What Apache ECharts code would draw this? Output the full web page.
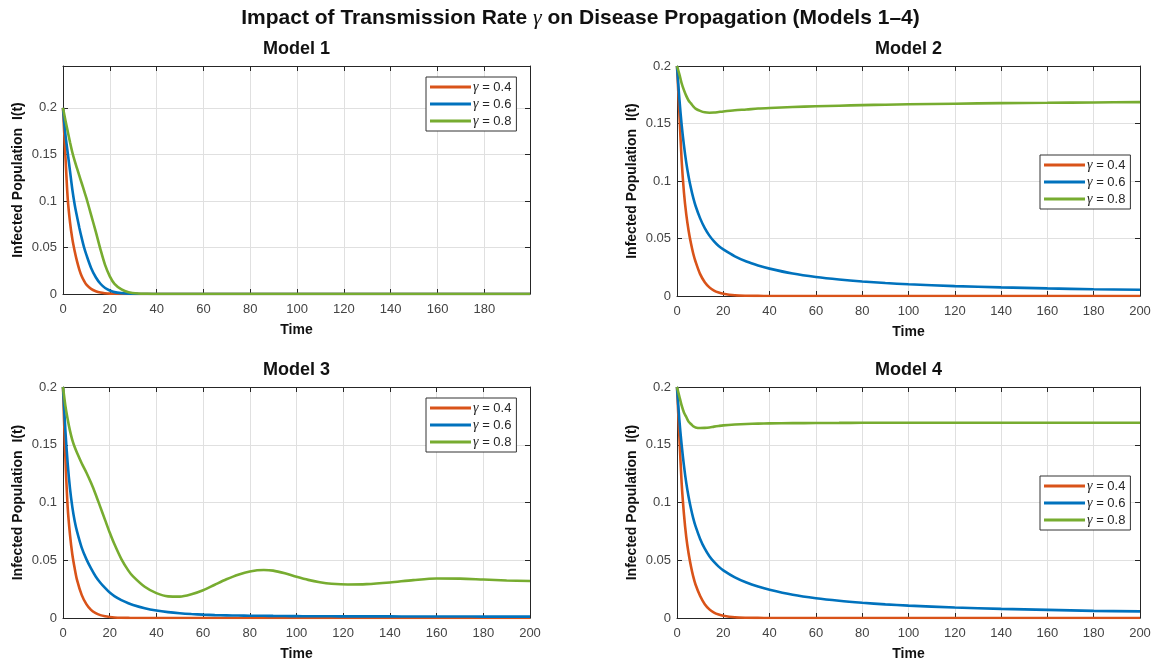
<!DOCTYPE html>
<html>
<head>
<meta charset="utf-8">
<script src="https://cdn.jsdelivr.net/npm/echarts@6/dist/echarts.min.js"></script>
<style>
  html, body { margin: 0; padding: 0; background: #fff; }
  #chart { width: 1161px; height: 664px; }
</style>
</head>
<body>
<div id="chart"></div>
<script>
// ---- data ----
var seriesNames = ['γ = 0.4', 'γ = 0.6', 'γ = 0.8'];
var modelTitles = ['Model 1', 'Model 2', 'Model 3', 'Model 4'];

// Model 1
var time1 = [0, 1, 2, 3, 4, 5, 6, 7, 8, 9, 10, 12, 14, 16, 18, 20, 22, 25, 28, 32, 36, 40, 60, 100, 150, 199.5];
var m1Orange = [0.2, 0.15, 0.103, 0.077, 0.059, 0.046, 0.035, 0.026, 0.019, 0.014, 0.01, 0.0055, 0.003, 0.0015, 0.0008, 0.0004, 0.0002, 0.0001, 0, 0, 0, 0, 0, 0, 0, 0];
var m1Blue = [0.2, 0.172, 0.152, 0.132, 0.112, 0.096, 0.083, 0.071, 0.06, 0.05, 0.042, 0.028, 0.018, 0.011, 0.0065, 0.0038, 0.002, 0.0009, 0.0003, 0.0001, 0, 0, 0, 0, 0, 0];
var m1Green = [0.2, 0.187, 0.175, 0.163, 0.152, 0.143, 0.135, 0.127, 0.119, 0.111, 0.103, 0.085, 0.067, 0.048, 0.031, 0.019, 0.011, 0.005, 0.002, 0.0006, 0.0002, 0, 0, 0, 0, 0];

// Model 2
var time2 = [0, 1, 2, 3, 4, 5, 6, 7, 8, 10, 12, 14, 16, 18, 20, 25, 30, 35, 40, 50, 60, 70, 80, 90, 100, 120, 140, 160, 180, 200];
var m2Orange = [0.2, 0.16, 0.118, 0.09, 0.071, 0.057, 0.046, 0.037, 0.03, 0.019, 0.012, 0.0075, 0.0047, 0.003, 0.0019, 0.0006, 0.0002, 0.0001, 0, 0, 0, 0, 0, 0, 0, 0, 0, 0, 0, 0];
var m2Blue = [0.2, 0.172, 0.149, 0.131, 0.116, 0.104, 0.094, 0.0855, 0.0785, 0.0675, 0.059, 0.0525, 0.0475, 0.0435, 0.0405, 0.0345, 0.03, 0.0266, 0.0238, 0.0195, 0.0165, 0.0143, 0.0126, 0.0113, 0.0102, 0.0086, 0.0075, 0.0066, 0.0059, 0.0054];
var m2Green = [0.2, 0.193, 0.185, 0.179, 0.174, 0.17, 0.1675, 0.165, 0.163, 0.161, 0.1597, 0.1594, 0.1595, 0.16, 0.1605, 0.1615, 0.1622, 0.163, 0.1635, 0.1643, 0.165, 0.1655, 0.166, 0.1663, 0.1667, 0.1672, 0.1677, 0.168, 0.1683, 0.1686];

// Model 3
var time3 = [0, 1, 2, 3, 4, 5, 6, 8, 10, 12, 14, 16, 18, 20, 22, 25, 28, 30, 35, 40, 45, 50, 55, 60, 65, 70, 75, 80, 86, 90, 95, 100, 105, 110, 115, 122, 130, 140, 150, 160, 170, 180, 190, 200];
var m3Orange = [0.2, 0.14, 0.096, 0.072, 0.055, 0.043, 0.033, 0.02, 0.012, 0.007, 0.0042, 0.0025, 0.0015, 0.0009, 0.0005, 0.0002, 0.0001, 0, 0, 0, 0, 0, 0, 0, 0, 0, 0, 0, 0, 0, 0, 0, 0, 0, 0, 0, 0, 0, 0, 0, 0, 0, 0, 0];
var m3Blue = [0.2, 0.163, 0.134, 0.112, 0.096, 0.084, 0.075, 0.061, 0.051, 0.043, 0.036, 0.0305, 0.026, 0.022, 0.019, 0.0155, 0.0128, 0.0113, 0.0085, 0.0065, 0.0051, 0.0041, 0.0034, 0.0029, 0.0025, 0.0023, 0.0021, 0.002, 0.0019, 0.0018, 0.0017, 0.0016, 0.0015, 0.0015, 0.0015, 0.0014, 0.0014, 0.0014, 0.0013, 0.0013, 0.0013, 0.0012, 0.0012, 0.0012];
var m3Green = [0.2, 0.184, 0.172, 0.162, 0.154, 0.148, 0.143, 0.134, 0.126, 0.117, 0.107, 0.096, 0.085, 0.074, 0.064, 0.051, 0.041, 0.036, 0.027, 0.0215, 0.0187, 0.0185, 0.0205, 0.024, 0.0288, 0.0335, 0.0375, 0.0403, 0.0415, 0.041, 0.0387, 0.0357, 0.033, 0.031, 0.0297, 0.029, 0.0293, 0.0308, 0.0328, 0.0342, 0.0341, 0.0333, 0.0325, 0.032];

// Model 4
var time4 = [0, 1, 2, 3, 4, 5, 6, 7, 8, 10, 12, 14, 16, 18, 20, 25, 30, 35, 40, 50, 60, 70, 80, 90, 100, 120, 140, 160, 180, 200];
var m4Orange = [0.2, 0.158, 0.117, 0.09, 0.07, 0.056, 0.045, 0.036, 0.029, 0.019, 0.012, 0.0075, 0.0047, 0.003, 0.0019, 0.0006, 0.0002, 0.0001, 0, 0, 0, 0, 0, 0, 0, 0, 0, 0, 0, 0];
var m4Blue = [0.2, 0.172, 0.15, 0.132, 0.117, 0.105, 0.095, 0.0865, 0.0795, 0.0685, 0.06, 0.0535, 0.0485, 0.0445, 0.0413, 0.0352, 0.0307, 0.0272, 0.0244, 0.0201, 0.0171, 0.0149, 0.0132, 0.0118, 0.0107, 0.0091, 0.0079, 0.007, 0.0062, 0.0057];
var m4Green = [0.2, 0.192, 0.184, 0.178, 0.174, 0.17, 0.168, 0.166, 0.165, 0.1645, 0.1646, 0.165, 0.1657, 0.1663, 0.1668, 0.1675, 0.168, 0.1683, 0.1685, 0.1687, 0.1688, 0.1689, 0.169, 0.169, 0.169, 0.169, 0.169, 0.169, 0.169, 0.169];

var xMax = [199.5, 200, 200, 200];
var yMax = [0.245, 0.2, 0.2, 0.2];

var models = [
    { time: time1, values: [m1Orange, m1Blue, m1Green] },
    { time: time2, values: [m2Orange, m2Blue, m2Green] },
    { time: time3, values: [m3Orange, m3Blue, m3Green] },
    { time: time4, values: [m4Orange, m4Blue, m4Green] }
];

// ---- layout ----
var colors = ['#D95319', '#0072BD', '#77AC30'];
var font = 'Liberation Sans, Arial, Helvetica, sans-serif';
var axisColor = '#262626';
var grids = [
    { left: 63, top: 66, width: 467, height: 228 },
    { left: 677, top: 66, width: 463, height: 230 },
    { left: 63, top: 387, width: 467, height: 231 },
    { left: 677, top: 387, width: 463, height: 231 }
];
var legendPos = [
    { left: 426, top: 77 },
    { left: 1040, top: 155 },
    { left: 426, top: 398 },
    { left: 1040, top: 476 }
];

var chartDom = document.getElementById('chart');
var myChart = echarts.init(chartDom, null, { renderer: 'canvas' });

var titles = [{
    text: 'Impact of Transmission Rate {g|γ} on Disease Propagation (Models 1\u20134)',
    left: 'center',
    top: 7,
    padding: 0,
    textStyle: {
        fontFamily: font, fontSize: 21, fontWeight: 'bold', color: '#111',
        rich: { g: { fontFamily: 'Liberation Serif', fontStyle: 'italic', fontSize: 22, fontWeight: 'normal', color: '#111' } }
    }
}];
var xAxes = [], yAxes = [], series = [], legends = [];

grids.forEach(function (g, i) {
    titles.push({
        text: modelTitles[i],
        left: g.left + g.width / 2,
        textAlign: 'center',
        top: g.top - 26,
        padding: 0,
        textStyle: { fontFamily: font, fontSize: 18, fontWeight: 'bold', color: '#111' }
    });

    xAxes.push({
        type: 'value', gridIndex: i, position: 'bottom',
        min: 0, max: xMax[i], interval: 20,
        axisLine: { show: true, onZero: false, lineStyle: { color: axisColor, width: 1 } },
        axisTick: { show: true, inside: true, length: 5, lineStyle: { color: axisColor } },
        axisLabel: { color: '#444', fontSize: 13, fontFamily: font, margin: 9, showMaxLabel: i !== 0 },
        splitLine: { show: true, lineStyle: { color: '#e0e0e0', width: 1 } },
        name: 'Time', nameLocation: 'middle', nameGap: 29,
        nameTextStyle: { fontFamily: font, fontSize: 14, fontWeight: 'bold', color: '#111' }
    });
    xAxes.push({
        type: 'value', gridIndex: i, position: 'top',
        min: 0, max: xMax[i], interval: 20,
        axisLine: { show: true, onZero: false, lineStyle: { color: axisColor, width: 1 } },
        axisTick: { show: true, inside: true, length: 5, lineStyle: { color: axisColor } },
        axisLabel: { show: false },
        splitLine: { show: false }
    });
    yAxes.push({
        type: 'value', gridIndex: i, position: 'left',
        min: 0, max: yMax[i], interval: 0.05,
        axisLine: { show: true, onZero: false, lineStyle: { color: axisColor, width: 1 } },
        axisTick: { show: true, inside: true, length: 5, lineStyle: { color: axisColor } },
        axisLabel: { color: '#444', fontSize: 13, fontFamily: font, margin: 6, showMaxLabel: i !== 0 },
        splitLine: { show: true, lineStyle: { color: '#e0e0e0', width: 1 } },
        name: 'Infected Population  I(t)', nameLocation: 'middle', nameGap: 38,
        nameTextStyle: { fontFamily: font, fontSize: 14, fontWeight: 'bold', color: '#111' }
    });
    yAxes.push({
        type: 'value', gridIndex: i, position: 'right',
        min: 0, max: yMax[i], interval: 0.05,
        axisLine: { show: true, onZero: false, lineStyle: { color: axisColor, width: 1 } },
        axisTick: { show: true, inside: true, length: 5, lineStyle: { color: axisColor } },
        axisLabel: { show: false },
        splitLine: { show: false }
    });

    var m = models[i];
    m.values.forEach(function (vals, k) {
        series.push({
            type: 'line',
            name: seriesNames[k],
            xAxisIndex: 2 * i,
            yAxisIndex: 2 * i,
            data: m.time.map(function (t, j) { return [t, vals[j]]; }),
            showSymbol: false,
            smooth: 0.3,
            lineStyle: { width: 2.6, color: colors[k] },
            itemStyle: { color: colors[k] },
            emphasis: { disabled: true }
        });
    });

    legends.push({
        data: seriesNames,
        orient: 'vertical',
        left: legendPos[i].left,
        top: legendPos[i].top,
        icon: 'rect',
        itemWidth: 41,
        itemHeight: 3,
        itemGap: 3,
        padding: [3, 5, 3, 4],
        backgroundColor: '#fff',
        borderColor: '#333',
        borderWidth: 1,
        selectedMode: false,
        formatter: function (name) { return '{g|γ}' + name.slice(1); },
        textStyle: {
            fontFamily: font, fontSize: 13, color: '#262626', lineHeight: 14, padding: [0, 0, 0, -3],
            rich: { g: { fontFamily: 'Liberation Serif', fontStyle: 'italic', fontSize: 14, color: '#262626', lineHeight: 14 } }
        }
    });
});

var option = {
    animation: false,
    backgroundColor: '#fff',
    title: titles,
    grid: grids,
    xAxis: xAxes,
    yAxis: yAxes,
    legend: legends,
    series: series
};

option && myChart.setOption(option);
window.addEventListener('resize', function () {
    myChart.resize();
});
</script>
</body>
</html>
